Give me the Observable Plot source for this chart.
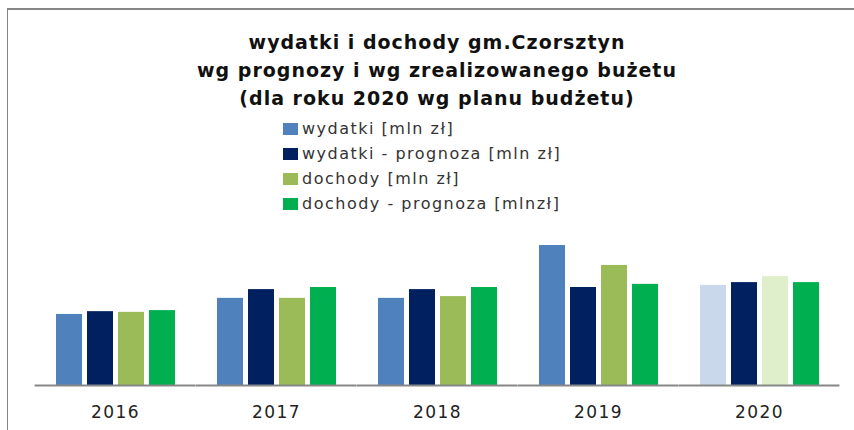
<!DOCTYPE html>
<html>
<head>
<meta charset="utf-8">
<script src="https://cdn.jsdelivr.net/npm/d3@7"></script>
<script src="https://cdn.jsdelivr.net/npm/@observablehq/plot@0.6"></script>
<style>
  html, body { margin: 0; padding: 0; background: #fff; }
  #wrap { position: relative; width: 854px; height: 430px; overflow: hidden; background: #fff; font-family: "DejaVu Sans", sans-serif; }
  #bt { position: absolute; left: 7px; top: 8px; width: 847px; height: 2px; background: #858585; }
  #bl { position: absolute; left: 7px; top: 8px; width: 1px; height: 422px; background: #858585; }
  #title { position: absolute; left: 0; width: 874px; top: 28px; text-align: center; font-weight: bold; font-size: 19px; letter-spacing: 1px; line-height: 28px; color: #111; }
  #legend { position: absolute; left: 283px; top: 116px; font-size: 16px; color: #333; letter-spacing: 1.5px; }
  #legend .row { height: 25px; display: flex; align-items: center; }
  #legend .sw { width: 15px; height: 12px; margin-right: 4px; }
  #chart { position: absolute; left: 0; top: 0; }
  #chart svg [aria-label="fx-axis tick label"] text { letter-spacing: 1.5px; }
</style>
</head>
<body>
<div id="wrap">
  <div id="chart"></div>
  <div id="bt"></div>
  <div id="bl"></div>
  <div id="title"></div>
  <div id="legend"></div>
</div>
<script>
// ---- data ----
const titleLines = [
  "wydatki i dochody gm.Czorsztyn",
  "wg prognozy i wg zrealizowanego bużetu",
  "(dla roku 2020 wg planu  budżetu)"
];
const years = ["2016", "2017", "2018", "2019", "2020"];
const seriesNames = [
  "wydatki [mln zł]",
  "wydatki - prognoza [mln zł]",
  "dochody [mln zł]",
  "dochody - prognoza [mlnzł]"
];
const wydatki = [20.3, 24.9, 24.9, 40.0, 28.6];
const wydatkiPrognoza = [21.1, 27.4, 27.4, 28.0, 29.4];
const dochody = [20.9, 24.9, 25.4, 34.3, 31.1];
const dochodyPrognoza = [21.4, 28.0, 28.0, 28.9, 29.4];
const planYear = "2020"; // realised values for this year are the budget plan (lighter colour)

// ---- styles ----
const seriesColors = ["#4F81BD", "#002060", "#9BBB59", "#00B050"];
const planColors = ["#C9D9EB", "#002060", "#DFEFCB", "#00B050"];

// ---- build table ----
const valueArrays = [wydatki, wydatkiPrognoza, dochody, dochodyPrognoza];
const rows = [];
years.forEach((yr, i) => {
  seriesNames.forEach((s, j) => {
    const key = yr === planYear ? s + " (plan)" : s;
    rows.push({ year: yr, series: s, value: valueArrays[j][i], key });
  });
});
const colorDomain = [...seriesNames, ...seriesNames.map(s => s + " (plan)")];
const colorRange = [...seriesColors, ...planColors];

document.getElementById("title").innerHTML = titleLines.map(t => `<div>${t}</div>`).join("");
document.getElementById("legend").innerHTML = seriesNames.map((s, j) =>
  `<div class="row"><div class="sw" style="background:${seriesColors[j]}"></div><span>${s}</span></div>`).join("");

const fxPadInner = 0.24, fxPadOuter = 0.12;
const W = 854, mL = 33, mR = 12;
const fxStep = (W - mL - mR) / (years.length - fxPadInner + 2 * fxPadOuter);
const ext = -fxStep * fxPadInner / 2; // extend baseline across the gaps between groups

const chart = Plot.plot({
  width: W,
  height: 430,
  marginTop: 245,
  marginBottom: 45,
  marginLeft: mL,
  marginRight: mR,
  style: { fontFamily: "DejaVu Sans, sans-serif", background: "transparent", color: "#222" },
  fx: { domain: years, paddingInner: fxPadInner, paddingOuter: fxPadOuter, label: null },
  x: { domain: seriesNames, paddingInner: 0.17, paddingOuter: 0, axis: null },
  y: { domain: [0, 40], axis: null },
  color: { domain: colorDomain, range: colorRange },
  marks: [
    Plot.barY(rows, { fx: "year", x: "series", y: "value", fill: "key" }),
    Plot.ruleY([0], { stroke: "#878787", strokeWidth: 2, insetLeft: ext, insetRight: ext }),
    Plot.axisFx({ anchor: "bottom", tickSize: 0, tickPadding: 20, fontSize: 17, label: null })
  ]
});
document.getElementById("chart").appendChild(chart);
</script>
</body>
</html>
